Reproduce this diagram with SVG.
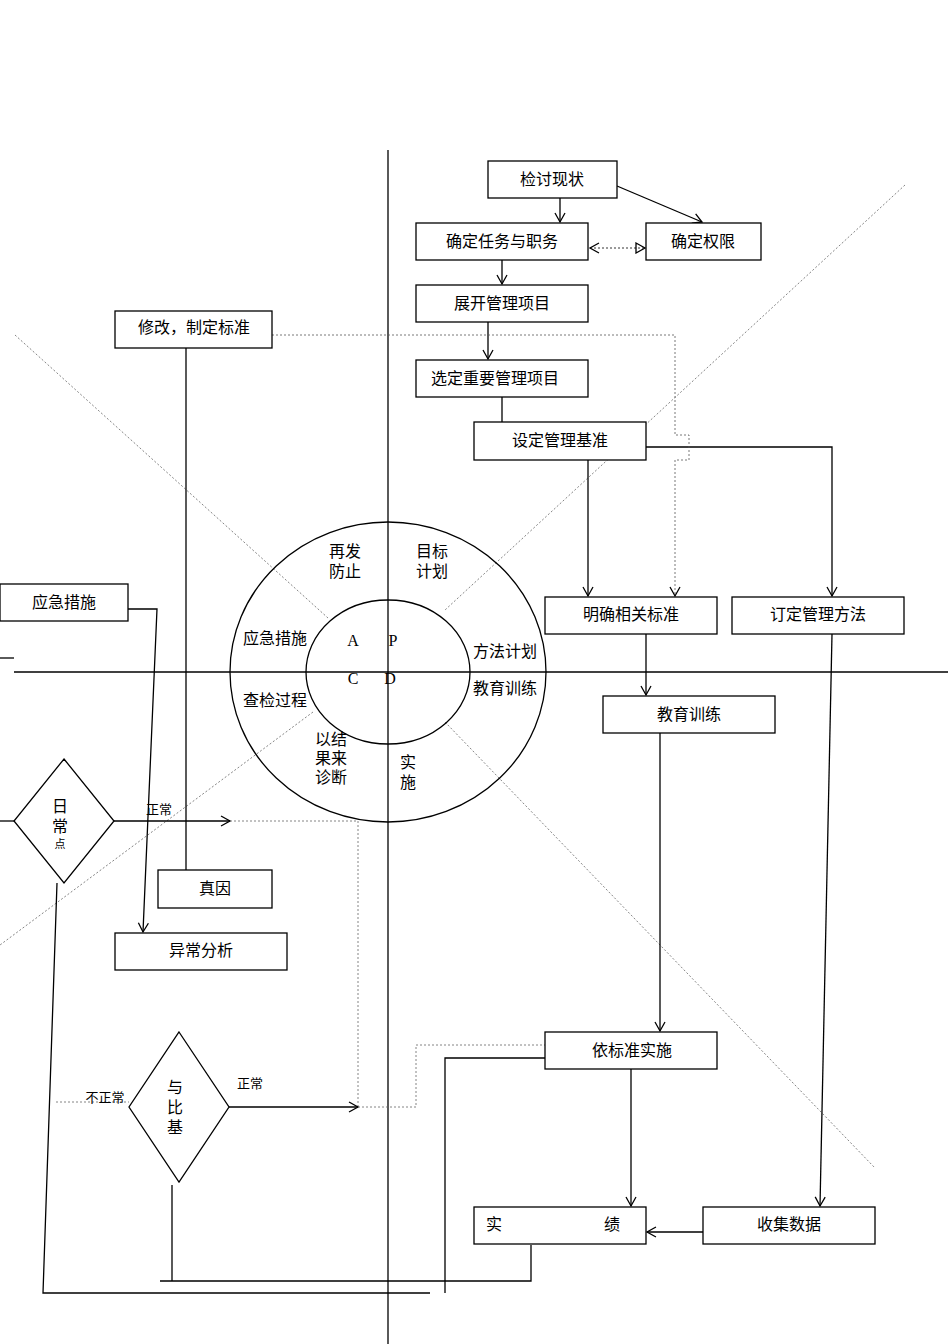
<svg xmlns="http://www.w3.org/2000/svg" width="950" height="1344" viewBox="0 0 950 1344">
<defs>
<marker id="a" markerWidth="12" markerHeight="12" refX="10" refY="6" orient="auto" markerUnits="userSpaceOnUse"><path d="M1,1 L10,6 L1,11" fill="none" stroke="#000" stroke-width="1"/></marker>
<marker id="f" markerWidth="12" markerHeight="12" refX="10" refY="6" orient="auto" markerUnits="userSpaceOnUse"><path d="M1,1 L10,6 L1,11 Z" fill="#000"/></marker>
<marker id="s" markerWidth="12" markerHeight="12" refX="2" refY="6" orient="auto" markerUnits="userSpaceOnUse"><path d="M11,1 L2,6 L11,11" fill="none" stroke="#000" stroke-width="1"/></marker>
</defs>
<style>
rect,ellipse,polygon{fill:#fff;stroke:#000;stroke-width:1.3}
ellipse{fill:none}
line,path,polyline{fill:none;stroke:#000;stroke-width:1.3}
.d{stroke:#666;stroke-width:0.8;stroke-dasharray:2,2}
text{font-family:"Liberation Serif","Noto Sans CJK SC",serif;font-size:16px;fill:#000;text-anchor:middle}
.sm{font-size:13px}
</style>
<rect x="0" y="0" width="950" height="1344" style="fill:#fff;stroke:none"/>
<g id="axes">
<line x1="388" y1="150" x2="388" y2="1344"/>
<line x1="14" y1="672" x2="948" y2="672"/>
<line x1="0" y1="658" x2="14" y2="658"/>
<line class="d" x1="15" y1="335" x2="328" y2="618"/>
<line class="d" x1="445" y1="722" x2="875" y2="1168"/>
<line class="d" x1="905" y1="185" x2="445" y2="610"/>
<line class="d" x1="313" y1="712" x2="0" y2="945"/>
</g>
<g id="pdca">
<ellipse cx="388" cy="672" rx="158" ry="150"/>
<ellipse cx="388" cy="672" rx="82" ry="72"/>
<text x="345" y="557">再发</text><text x="345" y="577">防止</text>
<text x="432" y="557">目标</text><text x="432" y="577">计划</text>
<text x="275" y="644">应急措施</text>
<text x="505" y="657">方法计划</text>
<text x="505" y="694">教育训练</text>
<text x="275" y="706">查检过程</text>
<text x="331" y="745">以结</text><text x="331" y="764">果来</text><text x="331" y="783">诊断</text>
<text x="408" y="768">实</text><text x="408" y="788">施</text>
<text x="353" y="646">A</text><text x="393" y="646">P</text>
<text x="353" y="684">C</text><text x="390" y="684">D</text>
</g>
<g id="connectors">
<line x1="560" y1="198" x2="560" y2="222" marker-end="url(#a)"/>
<line x1="617" y1="186" x2="702" y2="222" marker-end="url(#a)"/>
<line class="d" x1="590" y1="248" x2="645" y2="248" style="stroke:#000" marker-start="url(#s)" marker-end="url(#f)"/>
<line x1="502" y1="260" x2="502" y2="284" marker-end="url(#a)"/>
<line x1="488" y1="322" x2="488" y2="359" marker-end="url(#a)"/>
<line x1="502" y1="397" x2="502" y2="422"/>
<line x1="588" y1="460" x2="588" y2="596" marker-end="url(#a)"/>
<polyline points="646,447 832,447 832,596" marker-end="url(#a)"/>
<polyline class="d" points="272,335 675,335 675,435 689,435 689,460 675,460 675,596" style="stroke:#555" marker-end="url(#a)"/>
<line x1="646" y1="634" x2="646" y2="695" marker-end="url(#a)"/>
<line x1="660" y1="733" x2="660" y2="1031" marker-end="url(#a)"/>
<line x1="832" y1="634" x2="820" y2="1206" marker-end="url(#a)"/>
<line x1="631" y1="1069" x2="631" y2="1206" marker-end="url(#a)"/>
<line x1="703" y1="1232" x2="647" y2="1232" marker-end="url(#a)"/>
<polyline points="545,1058 445,1058 445,1293"/>
<polyline points="531,1245 531,1281 160,1281"/>
<line x1="172" y1="1185" x2="172" y2="1281"/>
<polyline points="57,883 43,1293 430,1293"/>
<line x1="186" y1="348" x2="186" y2="870"/>
<polyline points="128,609 157,609 143,932" marker-end="url(#a)"/>
<line x1="0" y1="821" x2="14" y2="821"/>
<line x1="114" y1="821" x2="230" y2="821" marker-end="url(#a)"/>
<polyline class="d" points="230,821 358,821 358,1107"/>
<line x1="229" y1="1107" x2="358" y2="1107" marker-end="url(#a)"/>
<polyline class="d" points="358,1107 416,1107 416,1045 545,1045"/>
<line class="d" x1="56" y1="1102" x2="129" y2="1102"/>
<text class="sm" x="159" y="814">正常</text>
<text class="sm" x="250" y="1088">正常</text>
<text class="sm" x="105" y="1102">不正常</text>
</g>
<g id="n1"><rect x="488" y="161" width="129" height="37"/><text x="552" y="185">检讨现状</text></g>
<g id="n2"><rect x="416" y="223" width="172" height="37"/><text x="502" y="247">确定任务与职务</text></g>
<g id="n3"><rect x="646" y="223" width="115" height="37"/><text x="703" y="247">确定权限</text></g>
<g id="n4"><rect x="416" y="285" width="172" height="37"/><text x="502" y="309">展开管理项目</text></g>
<g id="n5"><rect x="416" y="360" width="172" height="37"/><text x="495" y="384">选定重要管理项目</text></g>
<g id="n6"><rect x="474" y="422" width="172" height="38"/><text x="560" y="446">设定管理基准</text></g>
<g id="n7"><rect x="545" y="597" width="172" height="37"/><text x="631" y="620">明确相关标准</text></g>
<g id="n8"><rect x="732" y="597" width="172" height="37"/><text x="818" y="620">订定管理方法</text></g>
<g id="n9"><rect x="603" y="696" width="172" height="37"/><text x="689" y="720">教育训练</text></g>
<g id="n10"><rect x="545" y="1032" width="172" height="37"/><text x="632" y="1056">依标准实施</text></g>
<g id="n11"><rect x="474" y="1207" width="172" height="37"/><text x="494" y="1230">实</text><text x="612" y="1230">绩</text></g>
<g id="n12"><rect x="703" y="1207" width="172" height="37"/><text x="789" y="1230">收集数据</text></g>
<g id="n13"><rect x="115" y="311" width="157" height="37"/><text x="194" y="333">修改，制定标准</text></g>
<g id="n14"><rect x="0" y="584" width="128" height="37"/><text x="64" y="608">应急措施</text></g>
<g id="n15"><rect x="158" y="870" width="114" height="38"/><text x="215" y="894">真因</text></g>
<g id="n16"><rect x="115" y="933" width="172" height="37"/><text x="201" y="956">异常分析</text></g>
<g id="n17"><polygon points="64,759 114,821 64,883 14,821"/><text x="60" y="812">日</text><text x="60" y="832">常</text><text x="60" y="848" style="font-size:11px">点</text></g>
<g id="n18"><polygon points="179,1032 229,1107 179,1182 129,1107"/><text x="175" y="1093">与</text><text x="175" y="1113">比</text><text x="175" y="1133">基</text></g>
</svg>
